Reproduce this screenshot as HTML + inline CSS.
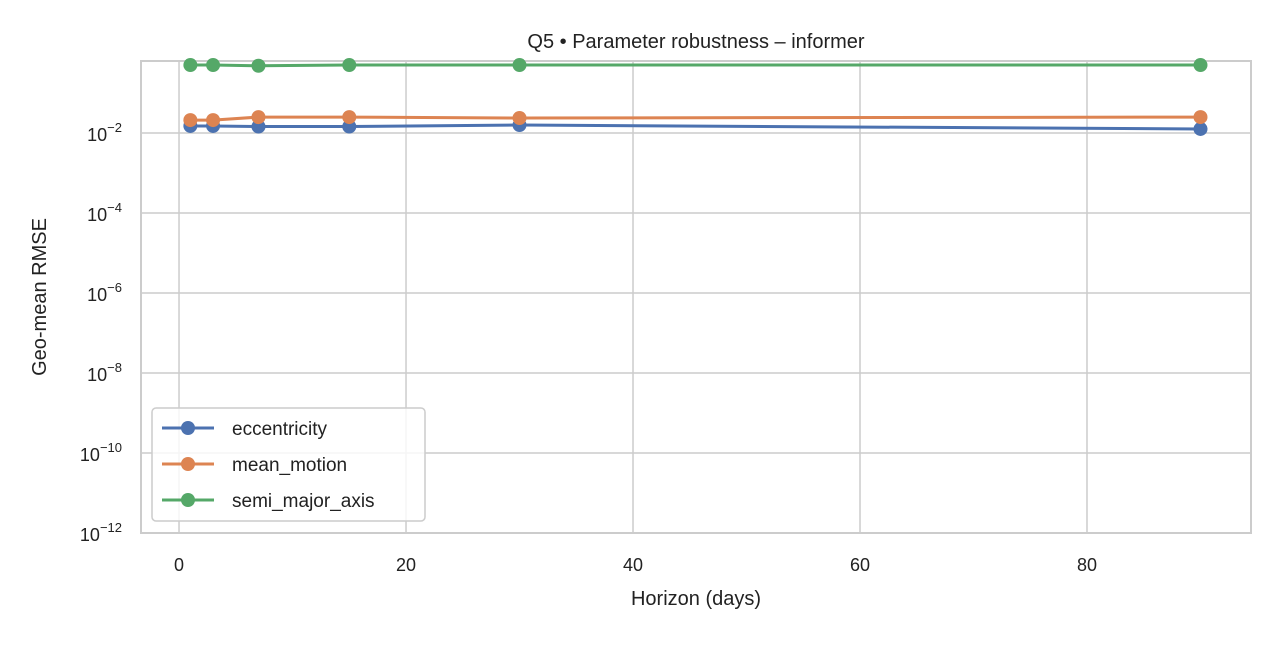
<!DOCTYPE html>
<html><head><meta charset="utf-8"><style>
body{margin:0;background:#fff;font-family:"Liberation Sans",sans-serif}
svg text{font-family:"Liberation Sans",sans-serif;fill:#222}
</style></head><body>
<svg id="chart" width="1280" height="640"></svg>
<script>
const horizons=[1,3,7,15,30,90];
const eccentricity=[0.015,0.015,0.0145,0.0145,0.0158,0.0126];
const meanMotion=[0.021,0.021,0.025,0.025,0.0237,0.025];
const semiMajor=[0.50,0.50,0.48,0.50,0.50,0.50];
const xTicks=[0,20,40,60,80];
const yTickExp=[-2,-4,-6,-8,-10,-12];
const seriesNames=['eccentricity','mean_motion','semi_major_axis'];
const seriesColors=['#4c72b0','#dd8452','#55a868'];
const L=141,R=1251,T=61,B=533;
const xmin=-3.35,xmax=94.45,lmin=-12,lmax=-0.2;
const X=v=>L+(v-xmin)/(xmax-xmin)*(R-L);
const Y=v=>B-(Math.log10(v)-lmin)/(lmax-lmin)*(B-T);
const YE=e=>B-(e-lmin)/(lmax-lmin)*(B-T);
const svg=document.getElementById('chart');
const NS='http://www.w3.org/2000/svg';
function mk(tag,attrs,parent){const e=document.createElementNS(NS,tag);for(const k in attrs)e.setAttribute(k,attrs[k]);(parent||svg).appendChild(e);return e;}
let g;
g=mk('g',{});


xTicks.forEach(t=>{
 const x=X(t);
 mk('line',{x1:x,x2:x,y1:T,y2:B,stroke:'#cccccc','stroke-width':1.5},g);
 const tx=mk('text',{x:x,y:571,'text-anchor':'middle','font-size':18});
 tx.textContent=t;
 
 
});
yTickExp.forEach(e=>{
 const y=YE(e);
 mk('line',{x1:L,x2:R,y1:y,y2:y,stroke:'#cccccc','stroke-width':1.5},g);
 const tx=mk('text',{x:122,y:y+8,'text-anchor':'end','font-size':18});
 tx.innerHTML='10<tspan dy="-9" font-size="13">−'+Math.abs(e)+'</tspan>';
 
 
});
const frame=mk('rect',{x:L,y:T,width:R-L,height:B-T,fill:'none',stroke:'#cccccc','stroke-width':2});


[eccentricity,meanMotion,semiMajor].forEach((vals,i)=>{
 const sg=mk('g',{});
 
 
 mk('polyline',{points:horizons.map((h,j)=>X(h)+','+Y(vals[j])).join(' '),fill:'none',stroke:seriesColors[i],'stroke-width':3},sg);
 horizons.forEach((h,j)=>{
  const c=mk('circle',{cx:X(h),cy:Y(vals[j]),r:7,fill:seriesColors[i]},sg);
  
  
 });
});
const lg=mk('g',{});


mk('rect',{x:152,y:408,width:273,height:113,rx:4,fill:'#fff','fill-opacity':0.8,stroke:'#cccccc','stroke-width':1.5},lg);
seriesNames.forEach((n,i)=>{
 const y=428+i*36;
 mk('line',{x1:162,x2:214,y1:y,y2:y,stroke:seriesColors[i],'stroke-width':3},lg);
 mk('circle',{cx:188,cy:y,r:7,fill:seriesColors[i]},lg);
 const t=mk('text',{x:232,y:y+7,'font-size':19},lg);
 t.textContent=n;
 
 
});
const title=mk('text',{x:696,y:48,'text-anchor':'middle','font-size':20});
title.textContent='Q5 • Parameter robustness – informer';


const xl=mk('text',{x:696,y:605,'text-anchor':'middle','font-size':20});
xl.textContent='Horizon (days)';


const yl=mk('text',{x:46,y:297,'text-anchor':'middle','font-size':20,transform:'rotate(-90 46 297)'});
yl.textContent='Geo-mean RMSE';


</script>
</body></html>
